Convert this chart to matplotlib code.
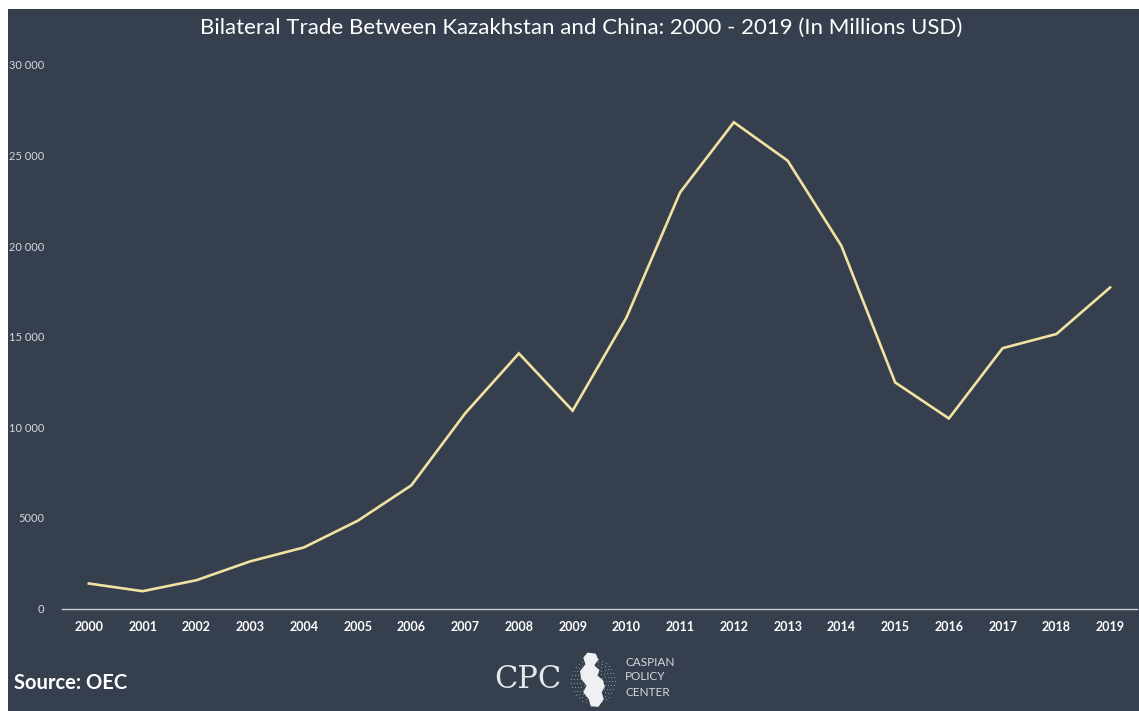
import matplotlib
matplotlib.use('Agg')
import matplotlib.pyplot as plt
from matplotlib.patches import Rectangle, Polygon
import numpy as np

# Data
years = [str(y) for y in range(2000, 2020)]
trade = [1380, 955, 1560, 2600, 3370, 4840, 6800, 10770, 14080, 10920,
         16050, 22970, 26840, 24720, 20020, 12480, 10490, 14370, 15150, 17720]
y_ticks = [0, 5000, 10000, 15000, 20000, 25000, 30000]
y_tick_labels = ['0', '5000', '10 000', '15 000', '20 000', '25 000', '30 000']

BG = '#363f4e'
LINE = '#f1e2a2'

W, H = 1139, 711
fig = plt.figure(figsize=(W / 100, H / 100), dpi=100, facecolor='white')
plt.rcParams['font.family'] = ['Lato', 'DejaVu Sans']

# dark panel (white strip on top and left as in the original)
fig.patches.append(Rectangle((8 / W, 0), 1 - 8 / W, 1 - 9 / H, transform=fig.transFigure,
                             facecolor=BG, edgecolor='none', zorder=-10))

ax = fig.add_axes([62 / W, 1 - 608.5 / H, (1137 - 62) / W, (608.5 - 65) / H])
ax.set_facecolor('none')
x = np.arange(len(years))
ax.plot(x, trade, color=LINE, linewidth=1.9, solid_joinstyle='miter')
ax.set_xlim(-0.5, len(years) - 0.5)
ax.set_ylim(0, 30000)
ax.set_xticks(x)
ax.set_xticklabels(years, color='white', fontsize=9, fontweight='bold')
ax.set_yticks(y_ticks)
ax.set_yticklabels(y_tick_labels, color='#d6d9de', fontsize=8)
ax.tick_params(axis='both', length=0)
ax.tick_params(axis='x', pad=9)
ax.tick_params(axis='y', pad=13)
for s in ['top', 'right', 'left']:
    ax.spines[s].set_visible(False)
ax.spines['bottom'].set_color('#c9ccd2')
ax.spines['bottom'].set_linewidth(1)

fig.text(581 / W, 1 - 28 / H, 'Bilateral Trade Between Kazakhstan and China: 2000 - 2019 (In Millions USD)',
         ha='center', va='center', color='white', fontsize=16)
fig.text(14 / W, 1 - 683 / H, 'Source: OEC', ha='left', va='center', color='white',
         fontsize=14.5, fontweight='bold')

# CPC logo
fig.text(528 / W, 1 - 679 / H, 'CPC', ha='center', va='center', color='#e6e8eb',
         fontsize=22, family='DejaVu Serif', fontweight='light')
lax = fig.add_axes([566 / W, 1 - 708 / H, 54 / W, 56 / H])
lax.set_xlim(0, 1)
lax.set_ylim(0, 1)
lax.axis('off')
for r in np.linspace(0.08, 0.40, 7):
    th = np.linspace(0, 2 * np.pi, int(70 * r) + 6)
    lax.scatter(0.5 + r * np.cos(th), 0.48 + r * np.sin(th), s=0.7, color='#8e96a3', linewidths=0)
sea = [(0.40, 0.99), (0.55, 0.97), (0.60, 0.86), (0.52, 0.76), (0.62, 0.68), (0.58, 0.58),
       (0.68, 0.50), (0.72, 0.38), (0.66, 0.28), (0.70, 0.16), (0.60, 0.02), (0.46, 0.03),
       (0.42, 0.16), (0.32, 0.28), (0.38, 0.40), (0.28, 0.52), (0.26, 0.66), (0.36, 0.78),
       (0.32, 0.90)]
lax.add_patch(Polygon(sea, closed=True, facecolor='#eef0f2', edgecolor='none'))
for i, word in enumerate(['CASPIAN', 'POLICY', 'CENTER']):
    fig.text(625 / W, 1 - (662 + 15 * i) / H, word, ha='left', va='center',
             color='#d6d9de', fontsize=8.5)

fig.savefig('out.png', dpi=100, facecolor=fig.get_facecolor())
